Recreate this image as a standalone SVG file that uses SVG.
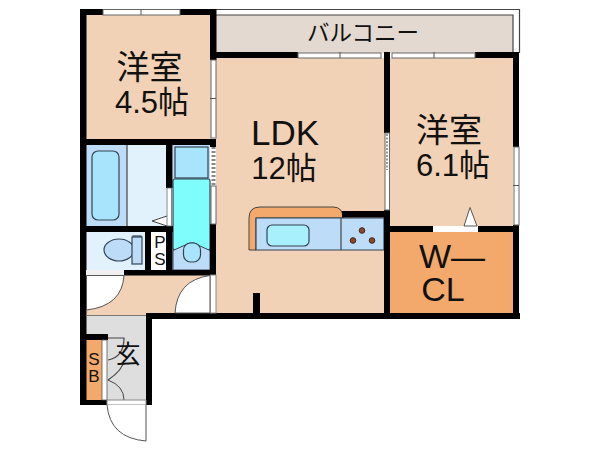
<svg xmlns="http://www.w3.org/2000/svg" width="600" height="450" viewBox="0 0 600 450">
<style>
text{font-family:"Liberation Sans","Noto Sans CJK JP",sans-serif;fill:#111;text-anchor:middle}
.room{font-size:33px}
.area{font-size:31px}
.big{font-size:34px}
.small{font-size:17px}
.wall{fill:#000}
.win{fill:#fff;stroke:#666;stroke-width:1}
.door{fill:#fff;stroke:#555;stroke-width:1}
.thin{fill:none;stroke:#444;stroke-width:1.2}
.fix{stroke:#345;stroke-width:1.2}
</style>
<rect width="600" height="450" fill="#fff"/>
<g id="floors">
<rect x="86" y="15" width="125" height="125" fill="#f2d2b6"/>
<rect x="216" y="15" width="297" height="38" fill="#e3d9d0"/>
<rect x="216" y="58" width="169" height="256" fill="#f2d2b6"/>
<rect x="390" y="58" width="123" height="169" fill="#f2d2b6"/>
<rect x="390" y="231" width="123" height="82" fill="#f2a96b"/>
<rect x="86" y="275" width="130" height="40" fill="#f2d2b6"/>
<rect x="86" y="316" width="60" height="85" fill="#dedede"/>
<rect x="86" y="145" width="41" height="81" fill="#bcdcf8"/>
<rect x="127" y="145" width="39" height="81" fill="#e2f2fd"/>
<rect x="86" y="232" width="59" height="38" fill="#e2f2fd"/>
<rect x="151" y="232" width="15" height="38" fill="#fff"/>
<rect x="173" y="145" width="37" height="125" fill="#bcdcf8"/>
<rect x="86" y="340" width="16" height="60" fill="#f2a96b"/>
</g>
<g id="balcony-rail"><path d="M216 9.500H519.500V53M216 15H513V53" class="thin" stroke="#777"/></g>
<g id="fixtures">
<rect x="92" y="151" width="27" height="69" rx="6" fill="#a8e4fb" class="fix"/>
<path d="M127 145V226" class="thin"/>
<path d="M167 216L152 221L167 226" fill="#fff" stroke="#444"/>
<rect x="175" y="147" width="33" height="31" fill="#a8e4fb" class="fix"/>
<rect x="173" y="179" width="37" height="71" rx="2" fill="#7ffcfc" class="fix"/>
<path d="M173 250.500L183 246L190 243H194L200 246L210 250.500V270H173Z" fill="#bcdcf8" stroke="#345"/>
<rect x="183.500" y="243" width="17" height="19" rx="7" fill="#a8e4fb" class="fix"/>
<ellipse cx="119" cy="250" rx="15" ry="11" fill="#bcdcf8" class="fix"/>
<rect x="133" y="236" width="8" height="4" fill="#bcdcf8" class="fix"/>
<rect x="132" y="237" width="10" height="27" fill="#bcdcf8" class="fix"/>
<path d="M249 250V218Q249 207 260 207H333Q343 207 343 218H256V250Z" fill="#f2a96b" stroke="#444"/>
<path d="M256 218H384V250H256Z" fill="#bcdcf8" class="fix"/>
<path d="M341 218V250" class="thin"/>
<rect x="267" y="225" width="42" height="21" rx="5" fill="#a8f0fb" class="fix"/>
<circle cx="362" cy="230.500" r="2.800" fill="#8a4a20" stroke="#422"/>
<circle cx="353" cy="240.500" r="2.800" fill="#8a4a20" stroke="#422"/>
<circle cx="372" cy="240.500" r="2.800" fill="#8a4a20" stroke="#422"/>
</g>
<g id="walls" class="wall">
<rect x="80" y="9" width="23" height="6"/>
<rect x="180" y="9" width="36" height="6"/>
<rect x="80" y="9" width="6.500" height="396"/>
<rect x="210" y="9" width="6.500" height="51"/>
<rect x="216" y="52" width="82" height="6"/>
<rect x="475" y="52" width="44" height="6"/>
<rect x="513" y="52" width="6" height="95"/>
<rect x="384" y="52" width="6" height="81"/>
<rect x="384" y="210" width="6" height="108"/>
<rect x="86" y="139" width="130" height="6"/>
<rect x="210" y="139" width="6" height="8"/>
<rect x="166" y="145" width="6.500" height="43"/>
<rect x="80" y="226" width="93" height="6"/>
<rect x="145" y="232" width="6" height="38"/>
<rect x="166" y="226" width="6.500" height="49"/>
<rect x="124" y="270" width="92" height="5.500"/>
<rect x="210" y="224" width="6" height="51"/>
<rect x="146" y="313" width="374" height="6"/>
<rect x="146" y="313" width="6" height="92"/>
<rect x="390" y="226" width="43" height="6"/>
<rect x="478" y="226" width="41" height="6"/>
<rect x="513" y="225" width="6" height="93"/>
<rect x="342" y="211" width="42" height="6.500"/>
<rect x="253" y="293" width="7" height="21"/>
<rect x="80" y="334" width="28" height="6"/>
<rect x="80" y="400" width="27" height="5"/>
<rect x="102" y="360" width="5" height="1.500"/>
</g>
<g id="windows">
<rect x="103" y="9.500" width="77" height="5.500" class="win"/><path d="M141 9V15" stroke="#555"/>
<rect x="298" y="53" width="83" height="5" class="win"/><path d="M340 52V58" stroke="#555"/>
<rect x="392" y="53" width="83" height="5" class="win"/><path d="M434 52V58" stroke="#555"/>
<rect x="211" y="60" width="5" height="78" class="win"/><path d="M210 98.500H216" stroke="#555"/>
<rect x="211" y="186" width="5" height="38" class="win"/>
<path d="M213.500 147V185" stroke="#888" stroke-width="4" stroke-dasharray="2 2"/>
<rect x="385" y="133" width="4.500" height="77" class="win"/>
<path d="M387 134V170" stroke="#999" stroke-width="2" stroke-dasharray="2 1.500"/>
<rect x="514" y="147" width="5" height="78" class="win"/><path d="M513 185.500H519" stroke="#555"/>
<rect x="433" y="226" width="45" height="6" fill="#fff"/>
<path d="M464 226L470 207.500L477 226Z" class="door"/>
<rect x="167" y="188" width="4.500" height="38" fill="#fff" stroke="#666" stroke-width=".8"/>
</g>
<g id="doors">
<rect x="86" y="270" width="38" height="5.500" fill="#f0f0f0"/>
<path d="M86.500 275.500H124Q122 306 86.500 310V275.500Z" fill="#fff" stroke="#555"/>
<path d="M210 275.500Q177 280 175 313H210Z" fill="#fff" stroke="#555"/>
<rect x="210.500" y="275" width="5.500" height="38" fill="#fff" stroke="#888"/>
<path d="M86 315.500H146" stroke="#777"/>
<rect x="102" y="340" width="5" height="60" fill="#fff" stroke="#555" stroke-width=".8"/>
<path d="M108 338H124Q124 357 108 360" class="thin"/>
<path d="M108 380Q123 370 124 360" class="thin"/>
<path d="M108 380Q124 386 124 400" fill="none" stroke="#444"/>
<path d="M107 400H146V405H107Z" fill="#fff" stroke="#888"/>
<path d="M107 405Q110 438 146 441V405" fill="#fff" stroke="#555"/>
</g>
<g id="labels">
<text x="149.500" y="79" class="room">洋室</text>
<text x="152" y="113" class="area">4.5帖</text>
<text x="285" y="145" style="font-size:35px">LDK</text>
<text x="284" y="179" class="area">12帖</text>
<text x="449" y="142" class="room">洋室</text>
<text x="453" y="176" class="area">6.1帖</text>
<text x="363" y="41" style="font-size:22.500px">バルコニー</text>
<text x="452" y="268" class="big">W—</text>
<text x="443" y="301" class="big">CL</text>
<text x="160" y="248" class="small">P</text>
<text x="160" y="265" class="small">S</text>
<text x="94" y="365" class="small">S</text>
<text x="94" y="382" class="small">B</text>
<text x="128" y="363" style="font-size:25px">玄</text>
</g>
</svg>
